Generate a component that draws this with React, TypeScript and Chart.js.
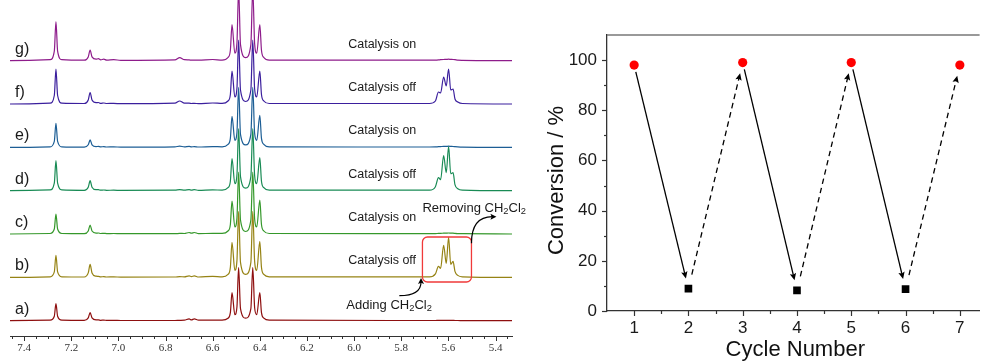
import React, { useEffect, useRef } from 'react';
import { Chart, registerables } from 'chart.js';

Chart.register(...registerables);

// ================= Left panel: stacked 1H NMR spectra =================
// chemical shift (ppm) of each vertex, shared by all traces
const shiftPpm = [
  7.46, 7.29, 7.272, 7.265, 7.258, 7.24, 7.145, 7.128, 7.12, 7.112,
  7.095, 7.085, 7.075, 7.062, 7.05, 7.02, 6.99, 6.76, 6.74, 6.72,
  6.70, 6.69, 6.678, 6.66, 6.60, 6.56, 6.535, 6.525, 6.518, 6.506,
  6.497, 6.49, 6.482, 6.46, 6.438, 6.43, 6.422, 6.413, 6.40, 6.393,
  6.383, 6.36, 5.68, 5.655, 5.642, 5.633, 5.62, 5.609, 5.599, 5.59,
  5.58, 5.572, 5.56, 5.54, 5.33,
];

// intensity of each trace at those vertices (arbitrary units)
const traceA = [
  0, 0.5, 4.5, 17, 4.5, 0.5, 0.3, 2.8, 8, 2.8,
  0.8, 0.8, 0.4, 0.6, 0.3, 0.4, 0.2, 0.2, 0.4, 0.5,
  1.8, 0.8, 1.8, 0.5, 0.6, 0.6, 2.5, 8, 28, 6,
  14, 53, 12, 2.5, 12, 53, 13, 6, 28, 8,
  2.5, 0.5, 0.2, 0.2, 0.3, 0.3, 0.3, 0.3, 0.4, 0.3,
  0.3, 0.2, 0.2, 0.1, 0,
];
const traceB = [
  0, 0.6, 5.5, 22, 5.5, 0.6, 0.4, 4.5, 13, 4.5,
  1.2, 1, 0.5, 0.8, 0.4, 0.5, 0.3, 0.4, 0.8, 0.5,
  1.5, 0.8, 1.5, 0.4, 1, 0.6, 3, 10, 35, 7,
  17, 66, 15, 3, 15, 66, 16, 7, 36, 10,
  3, 0.6, 0.5, 3.5, 11, 9, 32, 14, 40, 13,
  16, 6, 2, 0.6, 0,
];
const traceC = [
  0, 0.5, 5, 20, 5, 0.5, 0.3, 3, 9, 3,
  0.9, 1, 0.5, 0.7, 0.4, 0.5, 0.3, 0.3, 0.6, 0.5,
  1.5, 0.8, 1.5, 0.4, 0.6, 0.6, 3, 9.5, 33, 7,
  16, 62, 14, 2.5, 14, 62, 15, 7, 34, 9.5,
  3, 0.5, 0.3, 0.4, 0.6, 0.7, 0.8, 0.9, 1, 0.9,
  0.8, 0.6, 0.4, 0.3, 0,
];
const traceD = [
  0, 0.8, 7.5, 30, 7.5, 0.8, 0.4, 3.5, 10, 3.5,
  1, 1, 0.5, 0.7, 0.4, 0.5, 0.3, 0.5, 1, 0.5,
  1, 0.6, 1, 0.4, 0.8, 0.6, 3, 9.5, 32, 7,
  16, 62, 14, 2.5, 14, 62, 15, 7, 33, 9.5,
  3, 0.5, 0.5, 4, 13, 11, 35, 18, 44, 17,
  18, 6, 2, 0.6, 0,
];
const traceE = [
  0, 0.6, 6, 24, 6, 0.6, 0.3, 2.6, 7.5, 2.6,
  0.8, 1, 0.5, 0.8, 0.4, 0.5, 0.3, 0.6, 1.2, 0.6,
  1, 0.5, 0.8, 0.4, 0.8, 0.6, 3, 9, 31, 7,
  15, 60, 13, 2.5, 13, 60, 14, 7, 32, 9,
  3, 0.5, 0.4, 0.5, 0.7, 0.8, 1, 1, 1.2, 1,
  0.9, 0.7, 0.5, 0.3, 0,
];
const traceF = [
  0, 0.9, 8.5, 35, 8.5, 0.9, 0.5, 4, 11.5, 4,
  1.3, 1.5, 0.6, 1, 0.5, 0.6, 0.3, 0.8, 3, 0.8,
  0.8, 0.5, 0.6, 0.4, 1, 0.6, 3, 9.5, 33, 7,
  16, 64, 14, 2.5, 14, 64, 15, 7, 33, 9.5,
  3, 0.5, 0.5, 3, 12, 11, 27, 18, 35, 14,
  15, 5, 2, 0.5, 0,
];
const traceG = [
  0, 1, 9.5, 39, 9.5, 1, 0.5, 3.8, 10.7, 3.8,
  1.5, 2, 0.8, 1.5, 0.6, 1, 0.4, 0.8, 3, 1,
  0.8, 0.5, 0.6, 0.5, 1.2, 0.6, 3.2, 10.5, 36, 7.5,
  18, 72, 16, 3, 16, 72, 17, 7.5, 36, 10.5,
  3.2, 0.6, 0.5, 0.6, 0.8, 1, 1.2, 1.3, 1.5, 1.3,
  1.2, 1, 0.6, 0.4, 0,
];

const traceNames = ['a)', 'b)', 'c)', 'd)', 'e)', 'f)', 'g)'];
const traceStatus = ['', 'Catalysis off', 'Catalysis on', 'Catalysis off', 'Catalysis on', 'Catalysis off', 'Catalysis on'];
const ppmTickLabels = [7.4, 7.2, 7.0, 6.8, 6.6, 6.4, 6.2, 6.0, 5.8, 5.6, 5.4];

// ================= Right panel: conversion vs cycle =================
const onCycles = [1, 3, 5, 7];
const onConversion = [98, 99, 99, 98];
const offCycles = [2, 4, 6];
const offConversion = [8.9, 8.2, 8.7];
const cycleTickLabels = [1, 2, 3, 4, 5, 6, 7];
const conversionTickLabels = [0, 20, 40, 60, 80, 100];

// ---------------- styling / layout ----------------
const SANS = '"Liberation Sans", Arial, Helvetica, sans-serif';
const SERIF = '"Liberation Serif", "Times New Roman", serif';
const TRACE_COLORS = ['#8e0f0f', '#968314', '#35982b', '#198b55', '#1c5e95', '#3b1f9d', '#8e1c8b'];
const TRACE_OFFSETS = [15.3, 58.6, 102, 145.3, 188.6, 232, 275.3];
const TRACES = [traceA, traceB, traceC, traceD, traceE, traceF, traceG];
const LEFT_W = 545;

function arrowHead(ctx: CanvasRenderingContext2D, x: number, y: number, ang: number, len: number, half: number) {
  ctx.save();
  ctx.translate(x, y);
  ctx.rotate(ang);
  ctx.beginPath();
  ctx.moveTo(0, 0);
  ctx.lineTo(-len, -half);
  ctx.lineTo(-len * 0.8, 0);
  ctx.lineTo(-len, half);
  ctx.closePath();
  ctx.fill();
  ctx.restore();
}

function richText(ctx: CanvasRenderingContext2D, parts: [string, boolean][], x: number, y: number, size: number) {
  let cx = x;
  for (const [t, sub] of parts) {
    const s = sub ? size * 0.72 : size;
    ctx.font = `${s}px ${SANS}`;
    ctx.fillText(t, cx, sub ? y + size * 0.3 : y);
    cx += ctx.measureText(t).width;
  }
}

const nmrDecor = {
  id: 'nmrDecor',
  afterDraw(chart: any) {
    const { ctx, chartArea: area, scales } = chart;
    const x = scales.x;
    const y = scales.y;
    ctx.save();
    // axis tick marks (major every 0.2, minor every 0.05)
    ctx.strokeStyle = '#333';
    ctx.lineWidth = 1;
    for (let k = 107; k <= 149; k++) {
      const px = Math.round(x.getPixelForValue(k * 0.05)) + 0.5;
      const major = k % 4 === 0;
      ctx.beginPath();
      ctx.moveTo(px, area.bottom);
      ctx.lineTo(px, area.bottom + (major ? 5 : 3));
      ctx.stroke();
    }
    // trace labels
    ctx.fillStyle = '#1a1a1a';
    ctx.textBaseline = 'middle';
    ctx.textAlign = 'left';
    traceNames.forEach((name, i) => {
      ctx.font = `16px ${SANS}`;
      ctx.fillText(name, area.left + 5, y.getPixelForValue(TRACE_OFFSETS[i] + 11.5));
      if (traceStatus[i]) {
        ctx.font = `12.5px ${SANS}`;
        ctx.fillText(traceStatus[i], x.getPixelForValue(6.025), y.getPixelForValue(TRACE_OFFSETS[i] + 16.5));
      }
    });
    // CH2Cl2 annotation on trace b
    const ob = TRACE_OFFSETS[1];
    const bx0 = x.getPixelForValue(5.71);
    const bx1 = x.getPixelForValue(5.502);
    const by0 = y.getPixelForValue(ob + 40.4);
    const by1 = y.getPixelForValue(ob - 4.6);
    ctx.strokeStyle = '#f03a3a';
    ctx.lineWidth = 1.3;
    ctx.beginPath();
    (ctx as any).roundRect(bx0, by0, bx1 - bx0, by1 - by0, 5);
    ctx.stroke();

    ctx.fillStyle = '#1a1a1a';
    richText(ctx, [['Removing CH', false], ['2', true], ['Cl', false], ['2', true]],
      x.getPixelForValue(5.71), y.getPixelForValue(ob + 69.4), 13);
    richText(ctx, [['Adding CH', false], ['2', true], ['Cl', false], ['2', true]],
      x.getPixelForValue(6.033), y.getPixelForValue(ob - 27.6), 13);

    ctx.strokeStyle = '#000';
    ctx.fillStyle = '#000';
    ctx.lineWidth = 1.2;
    // adding arrow
    let sx = x.getPixelForValue(5.808), sy = y.getPixelForValue(ob - 18.3);
    let ex = x.getPixelForValue(5.716), ey = y.getPixelForValue(ob - 0.6);
    let cx = ex, cy = sy;
    ctx.beginPath();
    ctx.moveTo(sx, sy);
    ctx.quadraticCurveTo(cx, cy, ex, ey + 4);
    ctx.stroke();
    arrowHead(ctx, ex, ey, Math.atan2(ey - cy, ex - cx), 6, 3);
    // removing arrow
    sx = x.getPixelForValue(5.502); sy = y.getPixelForValue(ob + 34.1);
    ex = x.getPixelForValue(5.396); ey = y.getPixelForValue(ob + 60.7);
    cx = sx; cy = ey;
    ctx.beginPath();
    ctx.moveTo(sx, sy);
    ctx.quadraticCurveTo(cx, cy, ex - 4, ey);
    ctx.stroke();
    arrowHead(ctx, ex, ey, Math.atan2(ey - cy, ex - cx), 6, 3);
    ctx.restore();
  },
};

const cycleDecor = {
  id: 'cycleDecor',
  afterDatasetsDraw(chart: any) {
    const { ctx, scales } = chart;
    const x = scales.x;
    const y = scales.y;
    const seq = [
      ...onCycles.map((c, i) => ({ c, v: onConversion[i], on: true })),
      ...offCycles.map((c, i) => ({ c, v: offConversion[i], on: false })),
    ].sort((a, b) => a.c - b.c);
    ctx.save();
    ctx.strokeStyle = '#000';
    ctx.fillStyle = '#000';
    ctx.lineWidth = 1.3;
    for (let i = 0; i < seq.length - 1; i++) {
      const a = seq[i];
      const b = seq[i + 1];
      const x0 = x.getPixelForValue(a.c), y0 = y.getPixelForValue(a.v);
      const x1 = x.getPixelForValue(b.c), y1 = y.getPixelForValue(b.v);
      const dx = x1 - x0, dy = y1 - y0;
      const L = Math.hypot(dx, dy);
      const ux = dx / L, uy = dy / L;
      const s0 = a.on ? 7 : 14.5;
      const s1 = a.on ? 10.5 : 11;
      const px0 = x0 + ux * s0, py0 = y0 + uy * s0;
      const px1 = x1 - ux * s1, py1 = y1 - uy * s1;
      ctx.setLineDash(a.on ? [] : [5.5, 4]);
      ctx.beginPath();
      ctx.moveTo(px0, py0);
      ctx.lineTo(px1 - ux * 5, py1 - uy * 5);
      ctx.stroke();
      ctx.setLineDash([]);
      arrowHead(ctx, px1, py1, Math.atan2(uy, ux), 7, 3.2);
    }
    ctx.restore();
  },
  afterDraw(chart: any) {
    const { ctx, chartArea: area, scales } = chart;
    const x = scales.x;
    const y = scales.y;
    ctx.save();
    // top frame line
    ctx.strokeStyle = '#777';
    ctx.lineWidth = 1.6;
    ctx.beginPath();
    ctx.moveTo(area.left, area.top);
    ctx.lineTo(area.right, area.top);
    ctx.stroke();
    // tick marks
    ctx.strokeStyle = '#333';
    ctx.lineWidth = 1.2;
    for (let k = 2; k <= 14; k++) {
      const px = Math.round(x.getPixelForValue(k * 0.5)) + 0.5;
      const major = k % 2 === 0;
      ctx.beginPath();
      ctx.moveTo(px, area.bottom);
      ctx.lineTo(px, area.bottom + (major ? 5 : 3));
      ctx.stroke();
    }
    for (let k = 0; k <= 10; k++) {
      const py = Math.round(y.getPixelForValue(k * 10)) + 0.5;
      const major = k % 2 === 0;
      ctx.beginPath();
      ctx.moveTo(area.left, py);
      ctx.lineTo(area.left - (major ? 5 : 3), py);
      ctx.stroke();
    }
    // axis titles
    ctx.fillStyle = '#111';
    ctx.font = `22px ${SANS}`;
    ctx.textAlign = 'center';
    ctx.textBaseline = 'middle';
    ctx.fillText('Cycle Number', (area.left + area.right) / 2 + 2, area.bottom + 39);
    ctx.translate(37, (area.top + area.bottom) / 2 + 7.5);
    ctx.rotate(-Math.PI / 2);
    ctx.fillText('Conversion / %', 0, 0);
    ctx.restore();
  },
};

function leftConfig(): any {
  return {
    type: 'line',
    data: {
      datasets: TRACES.map((vals, i) => ({
        data: shiftPpm.map((v, j) => ({ x: v, y: TRACE_OFFSETS[i] + vals[j] })),
        borderColor: TRACE_COLORS[i],
        borderWidth: 1.2,
        pointRadius: 0,
        fill: false,
        cubicInterpolationMode: 'monotone',
      })),
    },
    options: {
      animation: false,
      responsive: false,
      devicePixelRatio: 1,
      events: [],
      layout: { padding: { left: 10, right: LEFT_W - 512, top: 0, bottom: 0 } },
      plugins: { legend: { display: false }, tooltip: { enabled: false } },
      scales: {
        x: {
          type: 'linear',
          reverse: true,
          min: 5.33,
          max: 7.46,
          afterFit: (s: any) => { s.height = 25; },
          afterBuildTicks: (s: any) => { s.ticks = ppmTickLabels.map((v) => ({ value: v })); },
          grid: { display: false, drawTicks: false },
          border: { display: true, color: '#333', width: 1 },
          ticks: {
            autoSkip: false,
            maxRotation: 0,
            padding: 6,
            color: '#333',
            font: { family: SERIF, size: 11 },
            callback: (v: number) => Number(v).toFixed(1),
          },
        },
        y: { display: false, min: 0, max: 336 },
      },
    },
    plugins: [nmrDecor],
  };
}

function rightConfig(): any {
  return {
    type: 'scatter',
    data: {
      datasets: [
        {
          data: onCycles.map((c, i) => ({ x: c, y: onConversion[i] })),
          pointStyle: 'circle',
          pointRadius: 4.6,
          backgroundColor: '#ff0000',
          borderColor: '#ff0000',
          borderWidth: 0,
        },
        {
          data: offCycles.map((c, i) => ({ x: c, y: offConversion[i] })),
          pointStyle: 'rect',
          pointRadius: 5.4,
          backgroundColor: '#000',
          borderColor: '#000',
          borderWidth: 0,
        },
      ],
    },
    options: {
      animation: false,
      responsive: false,
      devicePixelRatio: 1,
      events: [],
      layout: { padding: { left: 0, right: 0, top: 35, bottom: 0 } },
      plugins: { legend: { display: false }, tooltip: { enabled: false } },
      scales: {
        x: {
          type: 'linear',
          min: 0.5,
          max: 7.364,
          afterFit: (s: any) => { s.height = 50; },
          afterBuildTicks: (s: any) => { s.ticks = cycleTickLabels.map((v) => ({ value: v })); },
          grid: { display: false, drawTicks: false },
          border: { display: true, color: '#333', width: 1.3 },
          ticks: { padding: 7, color: '#1a1a1a', font: { family: SANS, size: 17 }, callback: (v: number) => String(v) },
        },
        y: {
          type: 'linear',
          min: 0,
          max: 110,
          afterFit: (s: any) => { s.width = 87; },
          afterBuildTicks: (s: any) => { s.ticks = conversionTickLabels.map((v) => ({ value: v })); },
          grid: { display: false, drawTicks: false },
          border: { display: true, color: '#333', width: 1.3 },
          ticks: { padding: 10, color: '#1a1a1a', font: { family: SANS, size: 17 }, callback: (v: number) => String(v) },
        },
      },
    },
    plugins: [cycleDecor],
  };
}

export default function App() {
  const leftRef = useRef<HTMLCanvasElement>(null);
  const rightRef = useRef<HTMLCanvasElement>(null);
  useEffect(() => {
    const left = new Chart(leftRef.current as HTMLCanvasElement, leftConfig());
    const right = new Chart(rightRef.current as HTMLCanvasElement, rightConfig());
    return () => {
      left.destroy();
      right.destroy();
    };
  }, []);
  return (
    <div style={{ position: 'absolute', left: 0, top: 0, width: 985, height: 361, background: '#fff', overflow: 'hidden' }}>
      <canvas ref={leftRef} width={LEFT_W} height={361}
        style={{ position: 'absolute', left: 0, top: 0, width: LEFT_W, height: 361 }} />
      <canvas ref={rightRef} width={465} height={361}
        style={{ position: 'absolute', left: 520, top: 0, width: 465, height: 361 }} />
    </div>
  );
}
